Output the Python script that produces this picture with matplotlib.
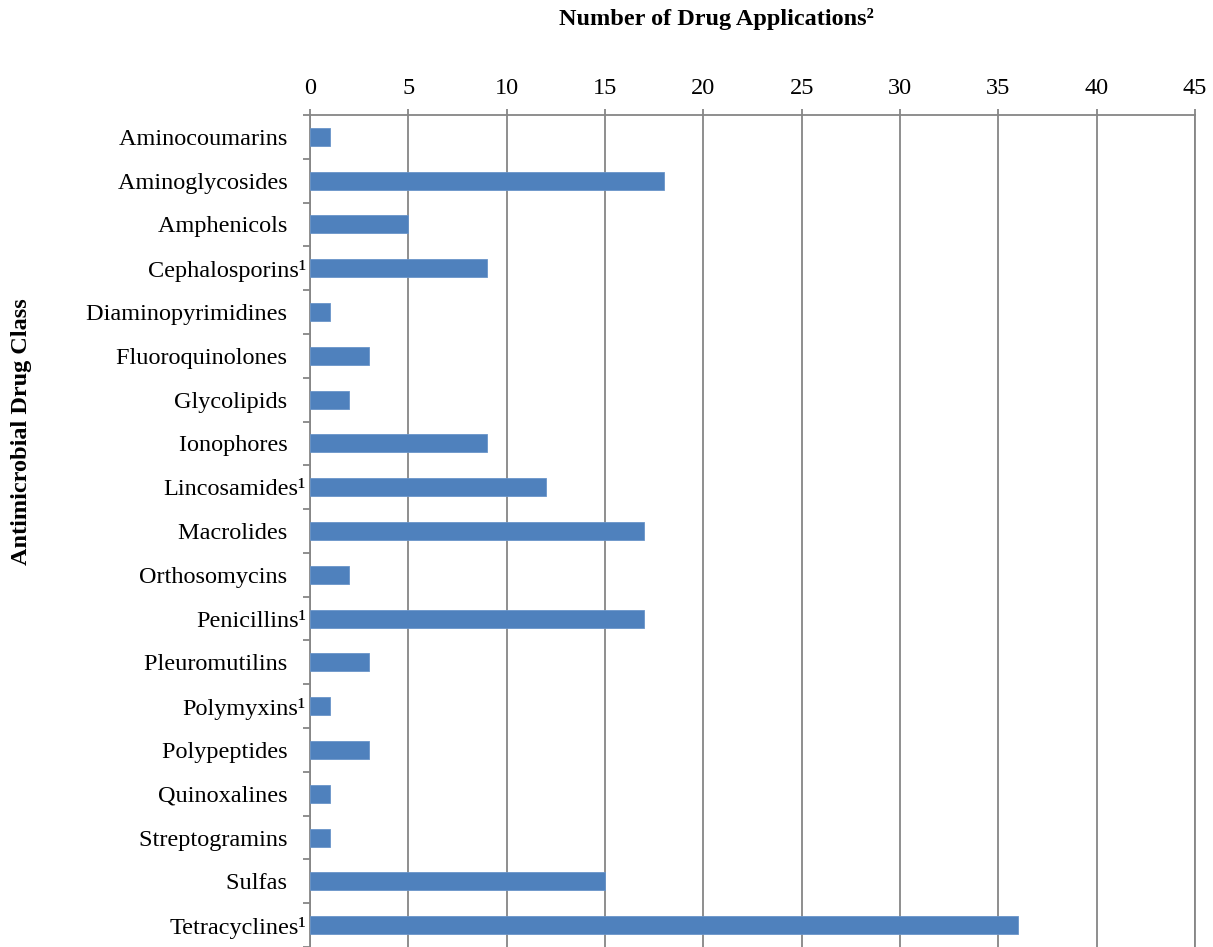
import numpy as np
import matplotlib.pyplot as plt
from matplotlib.ticker import FixedLocator

pad = "\u00a0\u00a0\u00a0"  # trailing gap used where no footnote mark follows

# Drug classes, top to bottom as shown
classes = ["Aminocoumarins" + pad, "Aminoglycosides" + pad, "Amphenicols" + pad, "Cephalosporins\u00b9",
           "Diaminopyrimidines" + pad, "Fluoroquinolones" + pad, "Glycolipids" + pad, "Ionophores" + pad,
           "Lincosamides\u00b9", "Macrolides" + pad, "Orthosomycins" + pad, "Penicillins\u00b9",
           "Pleuromutilins" + pad, "Polymyxins\u00b9", "Polypeptides" + pad, "Quinoxalines" + pad,
           "Streptogramins" + pad, "Sulfas" + pad, "Tetracyclines\u00b9"]
applications = [1, 18, 5, 9, 1, 3, 2, 9, 12, 17, 2, 17, 3, 1, 3, 1, 1, 15, 36]
x_ticks = list(range(0, 46, 5))

plt.rcParams['font.family'] = ['Liberation Serif', 'DejaVu Serif']
grid_color = '#868686'
fs = 17.5

fig = plt.figure(figsize=(12.13, 9.47), dpi=100)
ax = fig.add_axes([310 / 1213, 0.0, 885 / 1213, 1 - 115 / 947])

y = np.arange(len(classes))
ax.barh(y, applications, height=0.41, color='#4F81BD', edgecolor='#6A95C9', linewidth=0.6, zorder=3)

ax.set_xlim(0, 45)
ax.set_ylim(len(classes) - 0.5, -0.5)

ax.set_xticks(x_ticks)
ax.xaxis.tick_top()
ax.tick_params(axis='x', direction='out', length=4.5, width=1.3, color=grid_color,
               labelsize=fs, pad=7)
ax.grid(axis='x', color=grid_color, linewidth=1.3, zorder=0)

ax.set_yticks(y)
ax.set_yticklabels(classes)
ax.yaxis.set_minor_locator(FixedLocator(np.arange(-0.5, len(classes), 1.0)))
ax.tick_params(axis='y', which='major', length=0, labelsize=fs, pad=3)
ax.tick_params(axis='y', which='minor', direction='out', length=5, width=1.3, color=grid_color)

for side in ['top', 'left', 'right']:
    ax.spines[side].set_color(grid_color)
    ax.spines[side].set_linewidth(1.3)
ax.spines['bottom'].set_visible(False)

fig.text(716 / 1213, 1 - 19 / 947, "Number of Drug Applications\u00b2", ha='center', va='center',
         fontsize=fs, fontweight='bold')
fig.text(22 / 1213, 1 - 432 / 947, "Antimicrobial Drug Class", ha='center', va='center',
         rotation=90, fontsize=fs, fontweight='bold')

fig.savefig('out.png', dpi=100)
